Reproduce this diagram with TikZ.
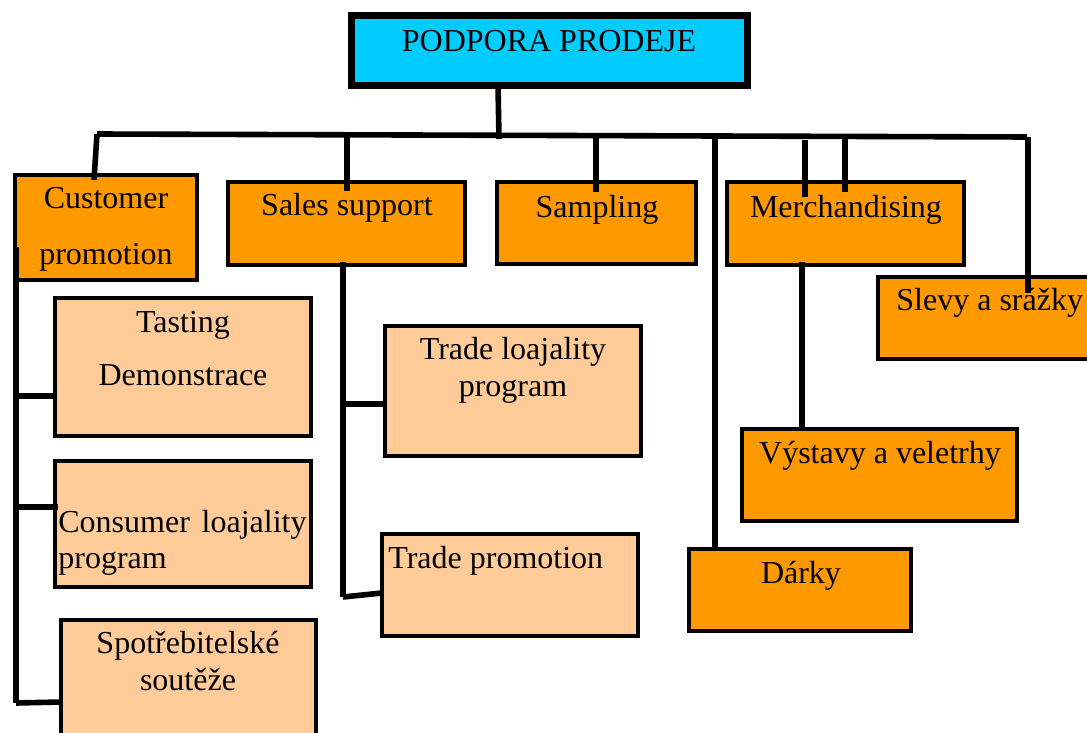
\documentclass[tikz,border=0pt]{standalone}
\usepackage{fontspec}
\setmainfont{Liberation Serif}
\definecolor{headcyan}{HTML}{00CCFF}
\definecolor{grouporange}{HTML}{FF9900}
\definecolor{itemorange}{HTML}{FFCC99}
\begin{document}
\begin{tikzpicture}[x=0.5pt,y=-0.5pt,
  sz/.style 2 args={minimum width=#1*0.5pt,minimum height=#2*0.5pt},
  box/.style={draw=black,line width=2pt,inner sep=0pt,outer sep=0pt},
  headbox/.style={box,fill=headcyan,line width=3.6pt},
  groupbox/.style={box,fill=grouporange},
  itembox/.style={box,fill=itemorange},
  wire/.style={draw=black,line width=2.8pt},
  lbl/.style={inner sep=0pt,anchor=base,font=\fontsize{16}{19}\selectfont},
]
\clip (0,0) rectangle (1087,733);

% boxes
\node[headbox,sz={396}{70}]  (head)  at (549.5,50.5) {};
\node[groupbox,sz={182}{105}] (cust)  at (106,227.5) {};
\node[groupbox,sz={237}{83}]  (sales) at (346.5,223.5) {};
\node[groupbox,sz={199}{82}]  (samp)  at (596.5,223) {};
\node[groupbox,sz={237}{83}]  (merch) at (845.5,223.5) {};
\node[groupbox,sz={222}{82}]  (slevy) at (989,318) {};
\node[itembox,sz={256}{138}]  (tast)  at (183,367) {};
\node[itembox,sz={256}{126}]  (cons)  at (183,524) {};
\node[itembox,sz={255}{130}]  (spot)  at (188.5,685) {};
\node[itembox,sz={256}{130}]  (tloy)  at (513,391) {};
\node[itembox,sz={256}{102}]  (tprom) at (510,585) {};
\node[groupbox,sz={222}{82}]  (darky) at (800,590) {};
\node[groupbox,sz={275}{92}]  (vyst)  at (879.5,475) {};

% labels
\node[lbl] (tHead)  at (549,52)  {PODPORA PRODEJE};
\node[lbl] (tCust1) at (106,208) {Customer};
\node[lbl] (tCust2) at (106,264) {promotion};
\node[lbl] (tSales) at (347,215) {Sales support};
\node[lbl] (tSamp)  at (597,217) {Sampling};
\node[lbl] (tMerch) at (846,217) {Merchandising};
\node[lbl,anchor=base west] (tSlevy) at (896,310) {Slevy a srážky};
\node[lbl] (tTast1) at (183,332) {Tasting};
\node[lbl] (tTast2) at (183,385) {Demonstrace};
\node[lbl] (tTloy1) at (513,359) {Trade loajality};
\node[lbl] (tTloy2) at (513,396) {program};
\node[lbl,anchor=base west] (tCons1) at (58,532) {Consumer};
\node[lbl,anchor=base east] (tCons2) at (307,532) {loajality};
\node[lbl,anchor=base west] (tCons3) at (58,568) {program};
\node[lbl] (tSpot1) at (188,653) {Spotřebitelské};
\node[lbl] (tSpot2) at (188,690) {soutěže};
\node[lbl,anchor=base west] (tTprom) at (388,568) {Trade promotion};
\node[lbl] (tDarky) at (801,583) {Dárky};
\node[lbl] (tVyst)  at (880,463) {Výstavy a veletrhy};

% junction points on the bus and inside the boxes
\coordinate (busL) at (97,134);
\coordinate (busR) at (1027,137);
\coordinate (jHead) at (499,139);
\coordinate (jCust) at (94,180);
\coordinate (jSales) at (347,136);
\coordinate (jSamp) at (596,136);
\coordinate (jDarky) at (715,137);
\coordinate (jMerchA) at (805,140);
\coordinate (jMerchB) at (845,137);
\coordinate (jSlevy) at (1028,137);
\coordinate (eSales) at (347,191);
\coordinate (eSamp) at (596,192);
\coordinate (eMerchA) at (805,197);
\coordinate (eMerchB) at (845,192);
\coordinate (eSlevy) at (1028,293);
\coordinate (custTrunkTop) at (16,247);
\coordinate (custTrunkEnd) at (16,703);
\coordinate (salesTrunkTop) at (343,262);
\coordinate (salesTrunkEnd) at (343,597);
\coordinate (merchTrunkTop) at (802,262);

% main bus
\draw[wire] (busL) -- (busR);
\draw[wire] (head.south -| 498,0) -- (jHead);
\draw[wire] (busL) -- (jCust);
\draw[wire] (jSales) -- (eSales);
\draw[wire] (jSamp) -- (eSamp);
\draw[wire] (jDarky) -- (darky.north -| jDarky);
\draw[wire] (jMerchA) -- (eMerchA);
\draw[wire] (jMerchB) -- (eMerchB);
\draw[wire] (jSlevy) -- (eSlevy);

% customer promotion branch
\draw[wire,line width=3.4pt] (custTrunkTop) -- (cust.south west -| custTrunkTop);
\draw[wire] (custTrunkTop) -- (custTrunkEnd);
\draw[wire] (custTrunkTop |- 0,396) -- (tast.west |- 0,396);
\draw[wire] (custTrunkTop |- 0,507) -- (58,507);
\draw[wire] (custTrunkEnd) -- (spot.west |- 0,702);

% sales support branch
\draw[wire] (salesTrunkTop) -- (salesTrunkEnd);
\draw[wire] (salesTrunkTop |- 0,404) -- (tloy.west |- 0,404);
\draw[wire] (salesTrunkEnd) -- (tprom.west |- 0,593);

% merchandising branch
\draw[wire] (merchTrunkTop) -- (vyst.north -| merchTrunkTop);
\end{tikzpicture}
\end{document}
